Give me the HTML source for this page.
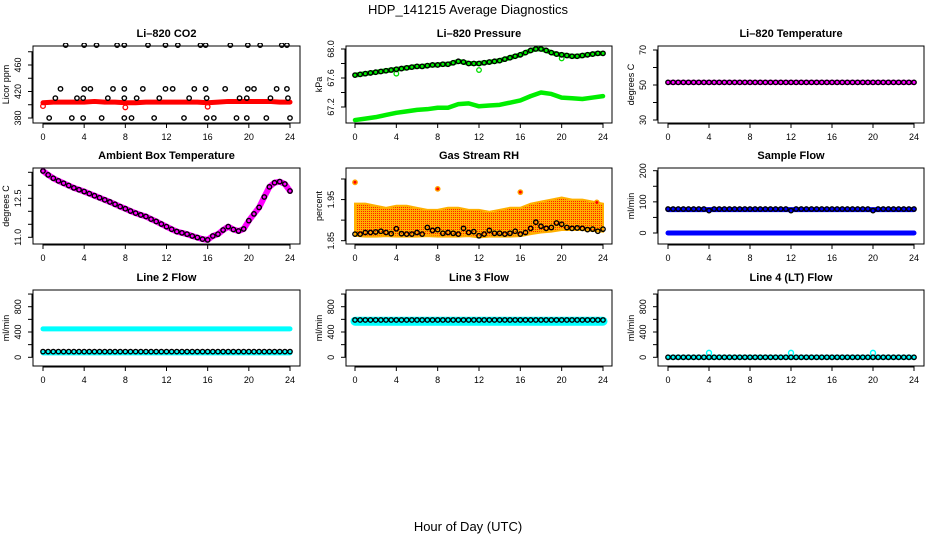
<!DOCTYPE html>
<html><head><meta charset="utf-8"><style>
html,body{margin:0;padding:0;background:#fff;}
svg{display:block;font-family:"Liberation Sans",Arial,sans-serif;}
</style></head><body>
<svg id="chart" width="936" height="540" viewBox="0 0 936 540">
<defs>
<pattern id="rhpat" width="2" height="2" patternUnits="userSpaceOnUse">
<rect width="2" height="2" fill="#ffb000"/><rect x="1" y="1" width="1" height="1" fill="#ff2000"/>
</pattern>
</defs>
<text x="468" y="14" text-anchor="middle" font-size="13">HDP_141215  Average Diagnostics</text>
<text x="468" y="531" text-anchor="middle" font-size="13">Hour of Day (UTC)</text>
</svg>
<script>
// ---- shared hour categories ----
const halfHours=[0,0.5,1,1.5,2,2.5,3,3.5,4,4.5,5,5.5,6,6.5,7,7.5,8,8.5,9,9.5,10,10.5,11,11.5,12,12.5,13,13.5,14,14.5,15,15.5,16,16.5,17,17.5,18,18.5,19,19.5,20,20.5,21,21.5,22,22.5,23,23.5,24];
const hours=[0,1,2,3,4,5,6,7,8,9,10,11,12,13,14,15,16,17,18,19,20,21,22,23,24];
const xTicks=[0,4,8,12,16,20,24];

// ---- CO2 ----
const co2BlackHours=[2.2,4.0,5.2,7.2,7.9,10.2,11.9,13.1,15.3,15.8,18.2,19.9,21.1,23.2,23.7, 1.7,4.0,4.6,6.8,7.9,9.7,11.9,12.6,14.7,15.8,17.7,19.9,20.5,22.7,23.7, 1.2,3.3,3.9,6.3,7.9,9.1,11.3,14.2,15.9,19.1,19.8,22.1,23.8, 0.6,2.8,3.9,5.7,7.9,8.6,10.8,13.7,15.9,16.6,18.8,19.8,21.7,24.0];
const co2BlackVals=[490,490,490,490,490,490,490,490,490,490,490,490,490,490,490, 424,424,424,424,424,424,424,424,424,424,424,424,424,424,424, 410,410,410,410,410,410,410,410,410,410,410,410,410, 380,380,380,380,380,380,380,380,380,380,380,380,380,380];
const co2Red=[403,404,404,404,404,405,404,404,403,403,404,404,404,404,404,404,403,404,405,405,405,405,405,404,404];
const co2RedOutHours=[0,8,16];
const co2RedOutVals=[398,396,397];

// ---- Pressure ----
const presUpper=[67.64,67.65,67.66,67.67,67.68,67.69,67.70,67.71,67.72,67.73,67.74,67.75,67.76,67.76,67.77,67.78,67.78,67.79,67.79,67.81,67.83,67.82,67.80,67.80,67.80,67.81,67.82,67.83,67.84,67.86,67.88,67.90,67.92,67.95,67.98,68.0,68.0,67.98,67.95,67.93,67.92,67.91,67.90,67.90,67.91,67.92,67.93,67.94,67.94];
const presLower=[67.02,67.04,67.06,67.09,67.12,67.14,67.16,67.17,67.19,67.19,67.24,67.25,67.21,67.22,67.23,67.26,67.29,67.35,67.40,67.38,67.33,67.32,67.31,67.33,67.35];
const presOutHours=[4,12,20];
const presOutVals=[67.66,67.71,67.87];

// ---- Li-820 temperature ----
const tempMag=[51.5,51.5,51.5,51.5,51.5,51.5,51.5,51.5,51.5,51.5,51.5,51.5,51.5,51.5,51.5,51.5,51.5,51.5,51.5,51.5,51.5,51.5,51.5,51.5,51.5];
const tempBlack=[51.5,51.5,51.5,51.5,51.5,51.5,51.5,51.5,51.5,51.5,51.5,51.5,51.5,51.5,51.5,51.5,51.5,51.5,51.5,51.5,51.5,51.5,51.5,51.5,51.5,51.5,51.5,51.5,51.5,51.5,51.5,51.5,51.5,51.5,51.5,51.5,51.5,51.5,51.5,51.5,51.5,51.5,51.5,51.5,51.5,51.5,51.5,51.5,51.5];

// ---- Ambient box temperature ----
const ambient=[13.55,13.4,13.27,13.17,13.08,12.99,12.9,12.83,12.76,12.68,12.6,12.52,12.44,12.36,12.27,12.18,12.1,12.01,11.93,11.86,11.8,11.7,11.61,11.51,11.41,11.31,11.22,11.17,11.12,11.05,10.99,10.93,10.9,11.05,11.12,11.28,11.41,11.3,11.24,11.32,11.64,11.9,12.15,12.55,12.94,13.1,13.14,13.05,12.78];

// ---- Gas stream RH ----
const rhHigh=[1.94,1.94,1.935,1.93,1.935,1.935,1.93,1.925,1.925,1.93,1.93,1.925,1.925,1.92,1.925,1.93,1.93,1.94,1.945,1.95,1.955,1.95,1.95,1.945,1.94];
const rhLow=[1.862,1.860,1.860,1.861,1.860,1.860,1.860,1.861,1.860,1.860,1.860,1.861,1.858,1.860,1.860,1.860,1.861,1.866,1.870,1.872,1.876,1.876,1.876,1.874,1.872];
const rhBlack=[1.866,1.866,1.870,1.870,1.871,1.873,1.870,1.867,1.879,1.867,1.866,1.866,1.870,1.866,1.882,1.875,1.877,1.868,1.870,1.868,1.866,1.880,1.870,1.872,1.862,1.866,1.875,1.868,1.868,1.866,1.868,1.873,1.866,1.870,1.880,1.895,1.885,1.880,1.882,1.893,1.890,1.882,1.880,1.881,1.880,1.877,1.878,1.873,1.878];
const rhOutHours=[0,8,16,23.4];
const rhOutVals=[1.992,1.976,1.968,1.943];

// ---- Sample flow ----
const sampleHigh=[75,75,75,75,75,75,75,75,75,75,75,75,75,75,75,75,75,75,75,75,75,75,75,75,75];
const sampleLow=[0,0,0,0,0,0,0,0,0,0,0,0,0,0,0,0,0,0,0,0,0,0,0,0,0];
const sampleBlack=[77,77,77,77,77,77,77,77,72,77,77,77,77,77,77,77,77,77,77,77,77,77,77,77,72,77,77,77,77,77,77,77,77,77,77,77,77,77,77,77,72,77,77,77,77,77,77,77,77];

// ---- Line 2 flow ----
const line2High=[450,450,450,450,450,450,450,450,450,450,450,450,450,450,450,450,450,450,450,450,450,450,450,450,450];
const line2Low=[70,70,70,70,70,70,70,70,70,70,70,70,70,70,70,70,70,70,70,70,70,70,70,70,70];
const line2Black=[90,90,90,90,90,90,90,90,90,90,90,90,90,90,90,90,90,90,90,90,90,90,90,90,90,90,90,90,90,90,90,90,90,90,90,90,90,90,90,90,90,90,90,90,90,90,90,90,90];

// ---- Line 3 flow ----
const line3Cyan=[570,570,570,570,570,570,570,570,570,570,570,570,570,570,570,570,570,570,570,570,570,570,570,570,570];
const line3Black=[590,590,590,590,590,590,590,590,590,590,590,590,590,590,590,590,590,590,590,590,590,590,590,590,590,590,590,590,590,590,590,590,590,590,590,590,590,590,590,590,590,590,590,590,590,590,590,590,590];

// ---- Line 4 flow ----
const line4Cyan=[0,0,0,0,0,0,0,0,0,0,0,0,0,0,0,0,0,0,0,0,0,0,0,0,0];
const line4Black=[0,0,0,0,0,0,0,0,0,0,0,0,0,0,0,0,0,0,0,0,0,0,0,0,0,0,0,0,0,0,0,0,0,0,0,0,0,0,0,0,0,0,0,0,0,0,0,0,0];
const line4OutHours=[4,12,20];
const line4OutVals=[70,70,70];

const svg=document.getElementById('chart');
const NS='http://www.w3.org/2000/svg';
function mk(tag,attrs,parent){const e=document.createElementNS(NS,tag);for(const k in attrs)e.setAttribute(k,attrs[k]);(parent||svg).appendChild(e);return e;}

function panel(c){
  const g=mk('g',{});
  
  
  const sx=h=>c.x0+(h/24)*(c.x24-c.x0);
  const sy=v=>c.ya+(v-c.va)*(c.yb-c.ya)/(c.vb-c.va);
  const box=mk('rect',{x:c.bl,y:c.bt,width:c.br-c.bl,height:c.bb-c.bt,fill:'none',stroke:'#000','stroke-width':1},g);
  
  
  const t=mk('text',{x:(c.bl+c.br)/2,y:c.bt-9,'text-anchor':'middle','font-size':11,'font-weight':'bold'},g);
  t.textContent=c.title;
  
  
  mk('line',{x1:sx(xTicks[0]),x2:sx(xTicks[xTicks.length-1]),y1:c.bb+1,y2:c.bb+1,stroke:'#000'},g);
  xTicks.forEach(v=>{
    mk('line',{x1:sx(v),x2:sx(v),y1:c.bb,y2:c.bb+5,stroke:'#000'},g);
    const tl=mk('text',{x:sx(v),y:c.bb+17,'text-anchor':'middle','font-size':9},g);
    tl.textContent=v;
    
    
  });
  mk('line',{x1:c.bl-1,x2:c.bl-1,y1:sy(c.yt[0]),y2:sy(c.yt[c.yt.length-1]),stroke:'#000'},g);
  c.yt.forEach(v=>{mk('line',{x1:c.bl-5,x2:c.bl,y1:sy(v),y2:sy(v),stroke:'#000'},g);});
  c.yl.forEach(v=>{
    const lx=c.bl-12, ly=sy(v);
    const tl=mk('text',{x:lx,y:ly,'text-anchor':'middle','font-size':9,transform:`rotate(-90 ${lx} ${ly})`},g);
    tl.textContent=c.fmt?c.fmt(v):v;
    
    
  });
  const yx=c.bl-24, yy=(c.bt+c.bb)/2;
  const yt=mk('text',{x:yx,y:yy,'text-anchor':'middle','font-size':9,transform:`rotate(-90 ${yx} ${yy})`},g);
  yt.textContent=c.ylab;
  
  
  const clip='clip'+c.id;
  const cp=mk('clipPath',{id:clip},g);mk('rect',{x:c.bl,y:c.bt-3,width:c.br-c.bl,height:c.bb-c.bt+3},cp);
  const d=mk('g',{'clip-path':`url(#${clip})`},g);
  return {sx,sy,g:d};
}
function band(p,xs,vs,color,w,name){
  const pl=mk('polyline',{points:xs.map((h,i)=>p.sx(h)+','+p.sy(vs[i])).join(' '),fill:'none',stroke:color,'stroke-width':w,'stroke-linejoin':'round','stroke-linecap':'round'},p.g);
  
  
}
function pts(p,xs,vs,color,r,sw,name,fill){
  xs.forEach((h,i)=>{
    const c=mk('circle',{cx:p.sx(h),cy:p.sy(vs[i]),r:r,fill:fill||'none',stroke:color,'stroke-width':sw},p.g);
    
    
  });
}
const R1={bt:46,bb:123},R2={bt:168,bb:244},R3={bt:290,bb:366};
const C1={bl:33,br:300,x0:43,x24:290},C2={bl:346,br:612,x0:355,x24:603},C3={bl:658,br:924,x0:668,x24:914};

let p=panel(Object.assign({id:1,name:'co2-panel',title:'Li\u2013820 CO2',ylab:'Licor ppm',va:380,ya:118,vb:460,yb:65,yt:[380,400,420,440,460,480],yl:[380,420,460]},C1,R1));
band(p,hours,co2Red,'#ff0000',5,'co2-red-series');
pts(p,co2RedOutHours,co2RedOutVals,'#ff0000',2.3,1.3,'co2-red-outlier');
pts(p,co2BlackHours,co2BlackVals,'#000',2.2,1.4,'co2-black-point');

p=panel(Object.assign({id:2,name:'pressure-panel',title:'Li\u2013820 Pressure',ylab:'kPa',va:67.2,ya:107,vb:68.0,yb:49,yt:[67.2,67.4,67.6,67.8,68.0],yl:[67.2,67.6,68.0],fmt:v=>v.toFixed(1)},C2,R1));
band(p,hours,presLower,'#00ee00',4.5,'pressure-lower-green');
band(p,halfHours,presUpper,'#00ee00',5,'pressure-upper-green');
pts(p,presOutHours,presOutVals,'#00dd00',2.3,1.3,'pressure-green-outlier');
pts(p,halfHours,presUpper,'#000',2.2,1.4,'pressure-black-point');

p=panel(Object.assign({id:3,name:'li820-temperature-panel',title:'Li\u2013820 Temperature',ylab:'degrees C',va:30,ya:120,vb:70,yb:50,yt:[30,40,50,60,70],yl:[30,50,70]},C3,R1));
band(p,hours,tempMag,'#ff00ff',5,'temperature-magenta');
pts(p,halfHours,tempBlack,'#000',2.2,1.4,'temperature-black-point');

p=panel(Object.assign({id:4,name:'ambient-temperature-panel',title:'Ambient Box Temperature',ylab:'degrees C',va:11.0,ya:237.3,vb:13.5,yb:172.3,yt:[11,11.5,12,12.5,13,13.5],yl:[11,12.5],fmt:v=>v.toFixed(1)},C1,R2));
band(p,halfHours,ambient,'#ff00ff',6,'ambient-magenta');
pts(p,halfHours,ambient,'#000',2.2,1.4,'ambient-black-point');

p=panel(Object.assign({id:5,name:'gas-stream-rh-panel',title:'Gas Stream RH',ylab:'percent',va:1.85,ya:240.7,vb:2.0,yb:179,yt:[1.85,1.9,1.95,2.0],yl:[1.85,1.95],fmt:v=>v.toFixed(2)},C2,R2));
const poly=hours.map((h,i)=>p.sx(h)+','+p.sy(rhHigh[i])).concat(hours.slice().reverse().map((h,j)=>p.sx(h)+','+p.sy(rhLow[hours.length-1-j]))).join(' ');
const rb=mk('polygon',{points:poly,fill:'url(#rhpat)',stroke:'#ffb000','stroke-width':2},p.g);


pts(p,rhOutHours,rhOutVals,'#ffa500',2.2,1.4,'rh-outlier','#ff0000');
pts(p,halfHours,rhBlack,'#000',2.2,1.4,'rh-black-point');

p=panel(Object.assign({id:6,name:'sample-flow-panel',title:'Sample Flow',ylab:'ml/min',va:0,ya:233,vb:200,yb:170.7,yt:[0,50,100,150,200],yl:[0,100,200]},C3,R2));
band(p,hours,sampleHigh,'#0000ff',5,'sample-flow-blue-high');
band(p,hours,sampleLow,'#0000ff',5,'sample-flow-blue-low');
pts(p,halfHours,sampleBlack,'#000',2.2,1.4,'sample-flow-black-point');

const flowAxis={va:0,ya:357.3,vb:800,yb:306.7,yt:[0,200,400,600,800,1000],yl:[0,400,800],ylab:'ml/min'};
p=panel(Object.assign({id:7,name:'line2-flow-panel',title:'Line 2 Flow'},flowAxis,C1,R3));
band(p,hours,line2High,'#00ffff',5,'line2-cyan-high');
band(p,hours,line2Low,'#00ffff',5,'line2-cyan-low');
pts(p,halfHours,line2Black,'#000',2.2,1.4,'line2-black-point');

p=panel(Object.assign({id:8,name:'line3-flow-panel',title:'Line 3 Flow'},flowAxis,C2,R3));
band(p,hours,line3Cyan,'#00ffff',9,'line3-cyan');
pts(p,halfHours,line3Black,'#000',2.2,1.4,'line3-black-point');

p=panel(Object.assign({id:9,name:'line4-flow-panel',title:'Line 4 (LT) Flow'},flowAxis,C3,R3));
band(p,hours,line4Cyan,'#00ffff',5,'line4-cyan');
pts(p,line4OutHours,line4OutVals,'#00ffff',2.5,1.4,'line4-cyan-outlier');
pts(p,halfHours,line4Black,'#000',2.2,1.4,'line4-black-point');
</script>
</body></html>
